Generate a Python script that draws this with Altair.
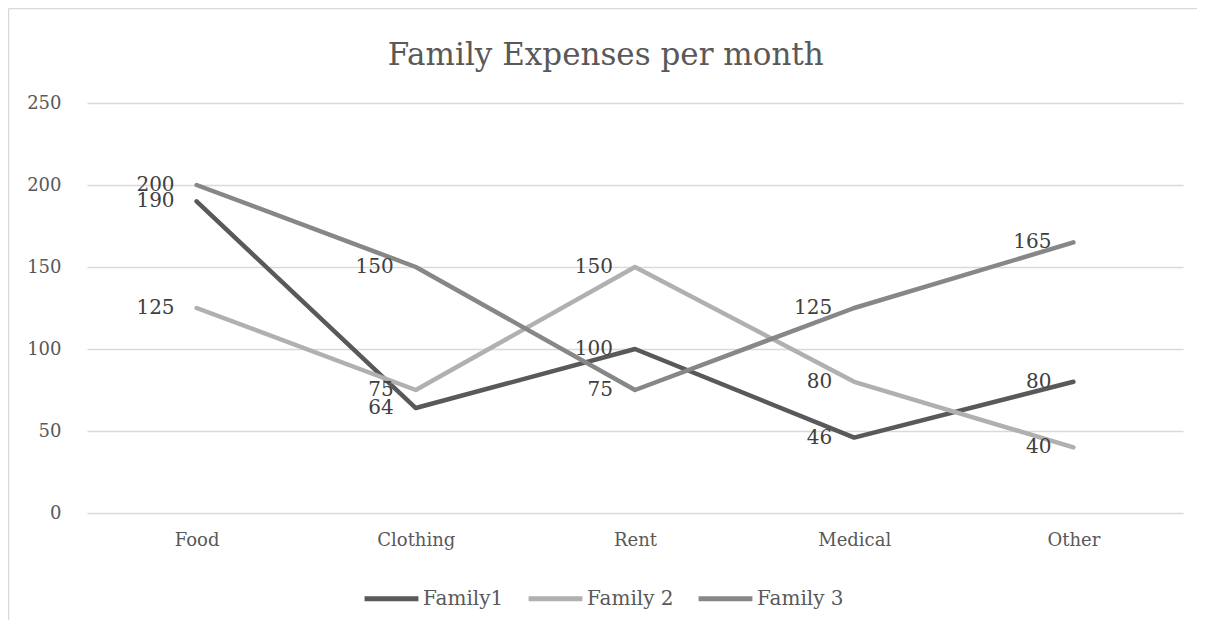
import altair as alt
import pandas as pd

categories = ["Food", "Clothing", "Rent", "Medical", "Other"]
family1 = [190, 64, 100, 46, 80]
family2 = [125, 75, 150, 80, 40]
family3 = [200, 150, 75, 125, 165]
series_names = ["Family1", "Family 2", "Family 3"]
series_colors = ["#595959", "#b0b0b0", "#878787"]
y_ticks = [0, 50, 100, 150, 200, 250]

rows = []
for name, vals in zip(series_names, [family1, family2, family3]):
    for c, v in zip(categories, vals):
        rows.append({"category": c, "series": name, "value": v})
df = pd.DataFrame(rows)

FONT = "DejaVu Serif"
PLOT_W, PLOT_H = 1096, 410

x_enc = alt.X("category:N", sort=categories, title=None,
              scale=alt.Scale(type="point", padding=0.5),
              axis=alt.Axis(domain=False, ticks=False, grid=False, labelAngle=0,
                            labelFont=FONT, labelFontSize=18, labelColor="#595959",
                            labelPadding=18))
y_enc = alt.Y("value:Q", title=None,
              scale=alt.Scale(domain=[0, 250], nice=False),
              axis=alt.Axis(values=y_ticks, domain=False, ticks=False, grid=True,
                            gridColor="#d9d9d9", gridWidth=1.3,
                            labelFont=FONT, labelFontSize=18, labelColor="#595959",
                            labelPadding=26))
color_enc = alt.Color("series:N", sort=series_names,
                      scale=alt.Scale(domain=series_names, range=series_colors),
                      legend=alt.Legend(title=None, orient="none", legendX=275, legendY=466,
                                        direction="horizontal", symbolType="stroke",
                                        symbolSize=2900, symbolStrokeWidth=5,
                                        labelFont=FONT, labelFontSize=20,
                                        labelColor="#595959", labelOffset=2,
                                        columnPadding=14))

base = alt.Chart(df)

lines = base.mark_line(strokeWidth=4.5, strokeCap="round", strokeJoin="round").encode(
    x=x_enc, y=y_enc, color=color_enc, order=alt.Order("series:N")
)

labels = base.mark_text(align="right", baseline="middle", dx=-22, font=FONT,
                        fontSize=20, color="#404040").encode(
    x=alt.X("category:N", sort=categories), y="value:Q", text="value:Q"
)

frame_left = alt.Chart(pd.DataFrame({"k": [0]})).mark_rule(color="#d9d9d9", strokeWidth=1.5).encode(
    x=alt.value(-78.5), y=alt.value(-94.5), y2=alt.value(520)
)
frame_top = alt.Chart(pd.DataFrame({"k": [0]})).mark_rule(color="#d9d9d9", strokeWidth=1.5).encode(
    x=alt.value(-78.5), x2=alt.value(1110), y=alt.value(-94.5)
)

chart = alt.layer(frame_left, frame_top, lines, labels).properties(
    width=PLOT_W, height=PLOT_H,
    title=alt.TitleParams("Family Expenses per month", font=FONT, fontSize=31,
                          fontWeight="normal", color="#595959", anchor="middle",
                          frame="bounds", dx=3, offset=-64),
    autosize=alt.AutoSizeParams(type="none"),
    padding={"left": 79, "top": 95, "right": 14, "bottom": 107},
    background="white",
).configure_view(stroke=None)

chart.save("out.html", embed_options={"renderer": "svg", "actions": False})
